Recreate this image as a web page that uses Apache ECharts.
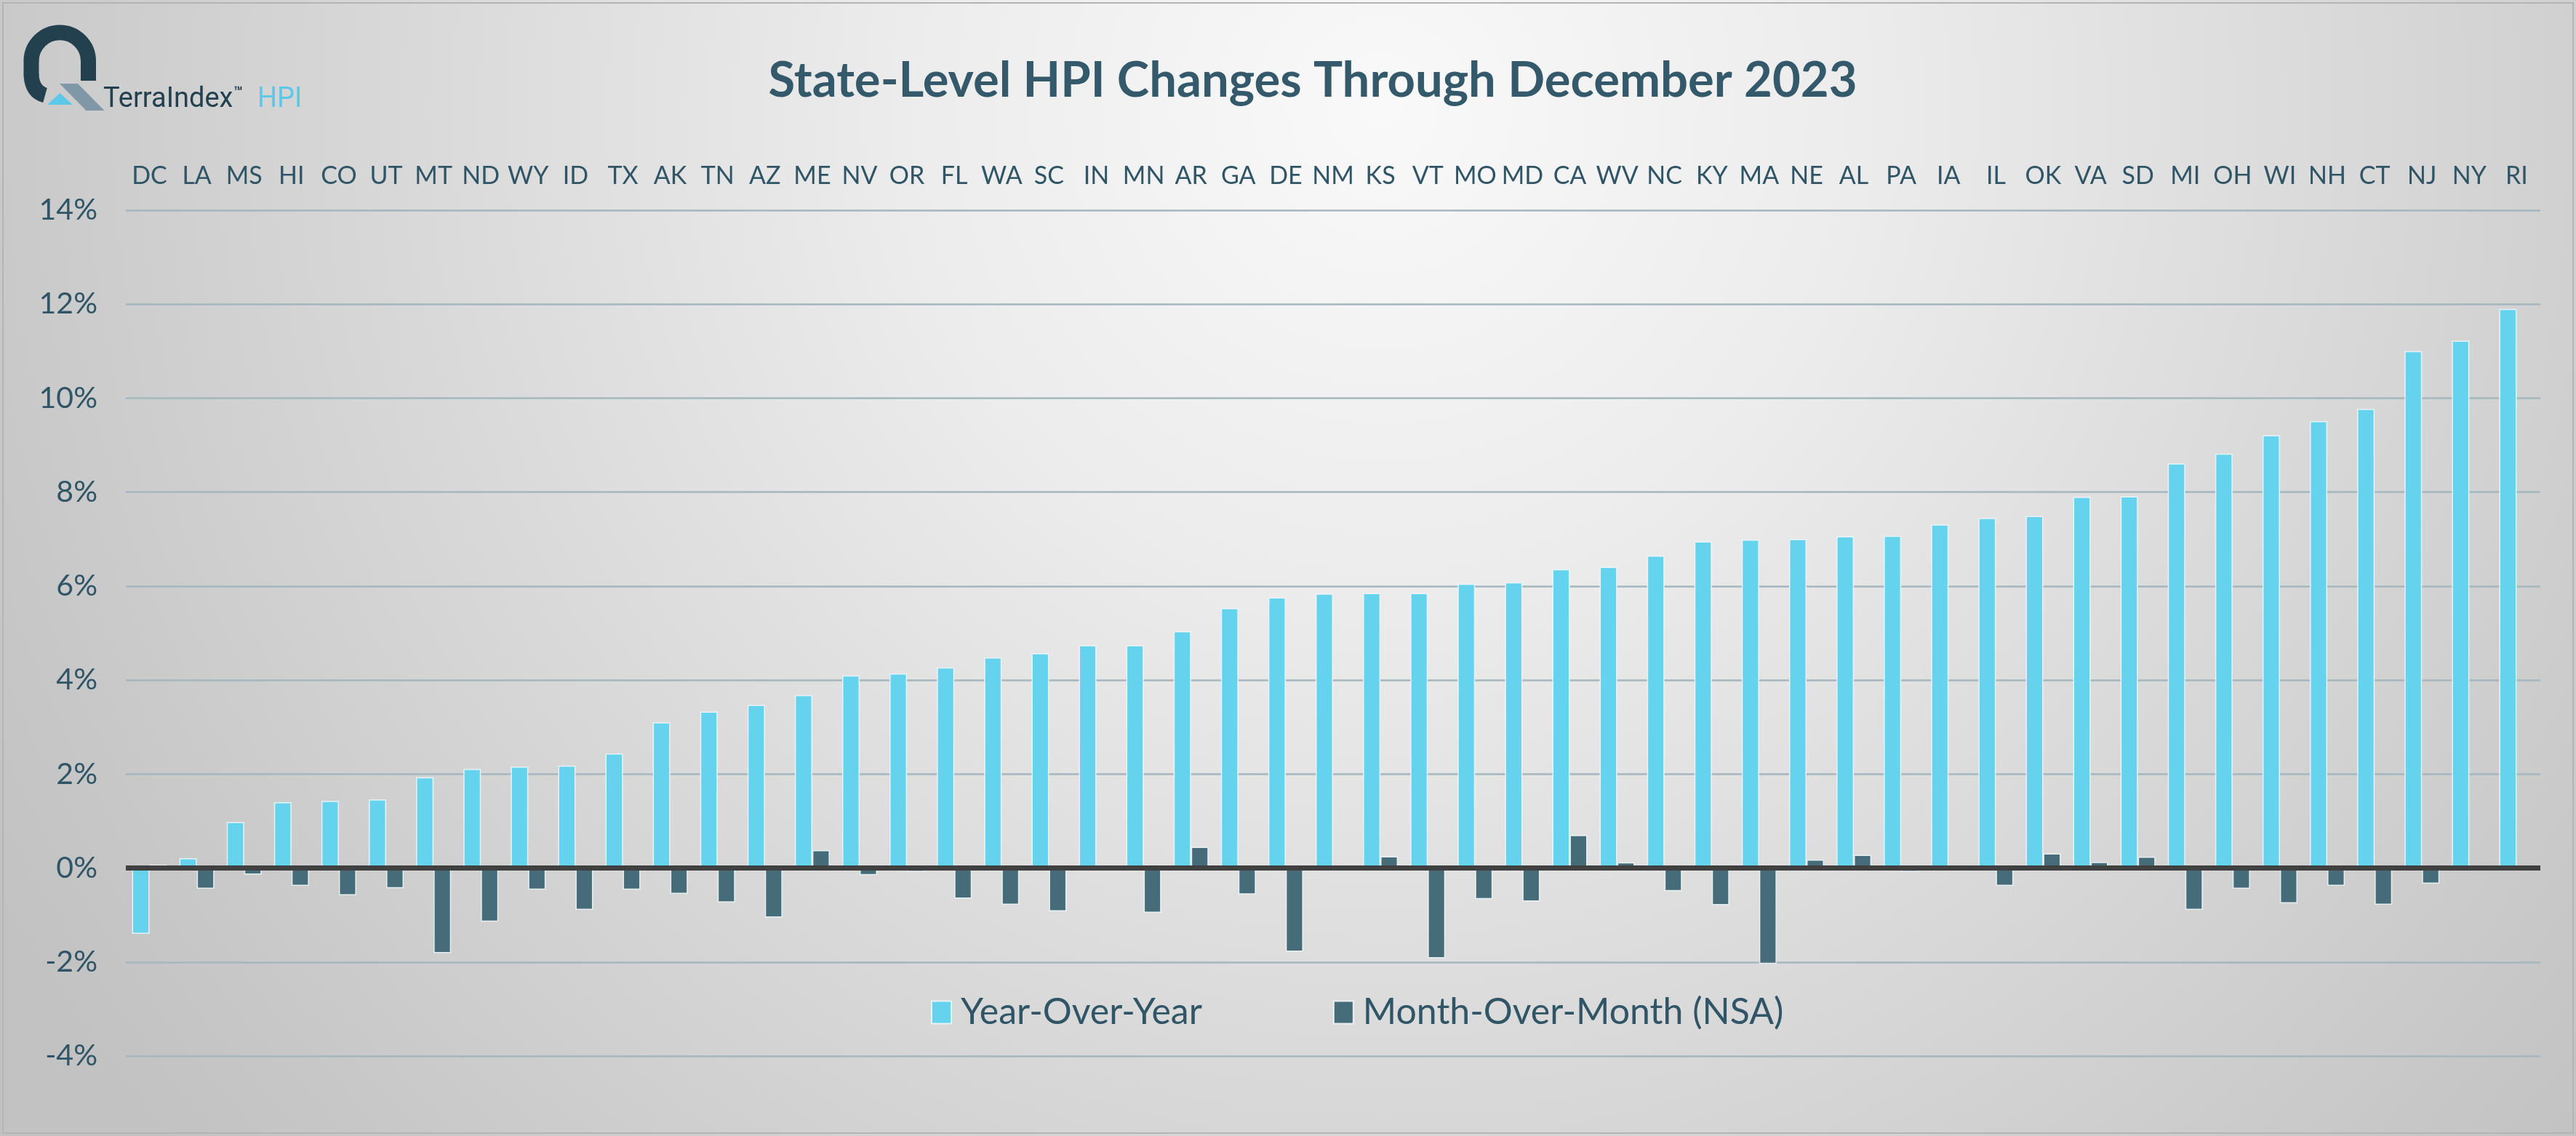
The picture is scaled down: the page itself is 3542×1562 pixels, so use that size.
<!DOCTYPE html>
<html>
<head>
<meta charset="utf-8">
<script src="https://cdn.jsdelivr.net/npm/echarts@6/dist/echarts.min.js"></script>
<style>
  html, body { margin: 0; padding: 0; }
  #chart { width: 3542px; height: 1562px; }
</style>
</head>
<body>
<div id="chart"></div>
<script>
// ---- Data ----
const states = ['DC','LA','MS','HI','CO','UT','MT','ND','WY','ID','TX','AK','TN','AZ','ME','NV','OR','FL','WA','SC','IN','MN','AR','GA','DE','NM','KS','VT','MO','MD','CA','WV','NC','KY','MA','NE','AL','PA','IA','IL','OK','VA','SD','MI','OH','WI','NH','CT','NJ','NY','RI'];
const yearOverYear = [-1.40,0.21,0.98,1.40,1.43,1.46,1.93,2.11,2.16,2.18,2.44,3.10,3.33,3.47,3.68,4.10,4.14,4.27,4.48,4.57,4.74,4.74,5.04,5.53,5.76,5.84,5.85,5.85,6.05,6.08,6.36,6.41,6.65,6.95,6.99,7.00,7.06,7.07,7.31,7.45,7.49,7.90,7.91,8.61,8.82,9.21,9.51,9.77,11.00,11.22,11.90];
const monthOverMonth = [0.07,-0.44,-0.14,-0.38,-0.58,-0.43,-1.81,-1.14,-0.46,-0.89,-0.46,-0.55,-0.73,-1.05,0.38,-0.15,-0.08,-0.65,-0.78,-0.92,0.00,-0.95,0.45,-0.56,-1.78,0.05,0.25,-1.92,-0.66,-0.71,0.70,0.12,-0.49,-0.79,-2.04,0.18,0.28,-0.08,0.00,-0.38,0.31,0.13,0.24,-0.89,-0.44,-0.75,-0.38,-0.78,-0.33,0.00,0.00];
const yTicks = { min: -4, max: 14, interval: 2 };
const seriesNames = ['Year-Over-Year', 'Month-Over-Month (NSA)'];
const titleText = 'State-Level HPI Changes Through December 2023';

const chart = echarts.init(document.getElementById('chart'), null, { renderer: 'canvas' });

const textColor = '#2F5566';
const barBorder = { borderColor: 'rgba(238,246,248,0.9)', borderWidth: 1.5 };
const logoDark = '#23404F';

const option = {
  animation: false,
  backgroundColor: '#cfcfcf',
  title: {
    text: titleText,
    left: 1805,
    top: 78,
    textAlign: 'center',
    padding: 0,
    textStyle: { fontFamily: 'Lato', fontWeight: 'bold', fontSize: 67, color: '#33596A' }
  },
  legend: {
    data: seriesNames,
    icon: 'rect',
    left: 1280,
    top: 1367,
    padding: 0,
    itemWidth: 27,
    itemHeight: 31,
    itemGap: 180,
    textStyle: { fontFamily: 'Lato', fontSize: 50, color: textColor, padding: [0, 0, 0, 8] }
  },
  grid: { left: 173, right: 49, top: 289, bottom: 110, containLabel: false },
  xAxis: {
    type: 'category',
    data: states,
    position: 'top',
    axisLine: { show: false, onZero: false },
    axisTick: { show: false },
    axisLabel: { interval: 0, margin: 30, fontFamily: 'Lato', fontSize: 34, color: textColor }
  },
  yAxis: {
    type: 'value',
    min: yTicks.min,
    max: yTicks.max,
    interval: yTicks.interval,
    axisLine: { show: false },
    axisTick: { show: false },
    axisLabel: { formatter: '{value}%', margin: 39, fontFamily: 'Lato', fontSize: 41, color: textColor },
    splitLine: { lineStyle: { color: '#A6B6BC', width: 2.5 } }
  },
  series: [
    {
      name: seriesNames[0],
      type: 'bar',
      data: yearOverYear,
      barWidth: 24,
      barGap: '0%',
      itemStyle: Object.assign({ color: '#66D3EE' }, barBorder),
      z: 2
    },
    {
      name: seriesNames[1],
      type: 'bar',
      data: monthOverMonth,
      barWidth: 24,
      barGap: '0%',
      itemStyle: Object.assign({ color: '#476C79' }, barBorder),
      z: 3,
      markLine: {
        silent: true,
        symbol: ['none', 'none'],
        label: { show: false },
        lineStyle: { color: '#404040', width: 7, type: 'solid' },
        data: [{ yAxis: 0 }]
      }
    }
  ],
  graphic: [
    {
      type: 'rect', z: -100, silent: true,
      shape: { x: 0, y: 0, width: 3542, height: 1562 },
      style: {
        fill: {
          type: 'radial', x: 1900, y: 150, r: 2200, global: true,
          colorStops: [
            { offset: 0, color: '#f9f9f9' },
            { offset: 0.3, color: '#ececec' },
            { offset: 0.62, color: '#d8d8d8' },
            { offset: 0.9, color: '#c7c7c7' },
            { offset: 1, color: '#c2c2c2' }
          ]
        }
      }
    },
    {
      type: 'rect', z: 100, silent: true,
      shape: { x: 4, y: 4, width: 3534, height: 1554 },
      style: { fill: 'none', stroke: '#b4b4b4', lineWidth: 2 }
    },
    // logo: Q ring built from simple strokes
    {
      type: 'arc', z: 100, silent: true,
      shape: { cx: 82.25, cy: 84, r: 39.25, startAngle: Math.PI, endAngle: 2 * Math.PI },
      style: { fill: 'none', stroke: logoDark, lineWidth: 21 }
    },
    {
      type: 'line', z: 100, silent: true,
      shape: { x1: 121.5, y1: 83, x2: 121.5, y2: 111 },
      style: { stroke: logoDark, lineWidth: 21 }
    },
    {
      type: 'line', z: 100, silent: true,
      shape: { x1: 43, y1: 83, x2: 43, y2: 104 },
      style: { stroke: logoDark, lineWidth: 21 }
    },
    {
      type: 'bezierCurve', z: 100, silent: true,
      shape: { x1: 43, y1: 103, cpx1: 44, cpy1: 126, x2: 62, y2: 131 },
      style: { fill: 'none', stroke: logoDark, lineWidth: 21 }
    },
    {
      type: 'polygon', z: 101, silent: true,
      shape: { points: [[82, 115], [107, 115], [143.5, 152], [118.5, 152]] },
      style: { fill: '#7F97A7' }
    },
    {
      type: 'polygon', z: 101, silent: true,
      shape: { points: [[65, 144], [82.3, 128], [100, 144]] },
      style: { fill: '#5BC8E8' }
    },
    {
      type: 'text', z: 101, silent: true, left: 142, top: 118,
      style: { text: 'TerraIndex', font: '38px Roboto', fill: logoDark }
    },
    {
      type: 'text', z: 101, silent: true, left: 321, top: 118,
      style: { text: '™', font: 'bold 20px Roboto', fill: logoDark }
    },
    {
      type: 'text', z: 101, silent: true, left: 354, top: 118,
      style: { text: 'HPI', font: '38px Roboto', fill: '#5BC8E8' }
    }
  ]
};

chart.setOption(option);
</script>
</body>
</html>
